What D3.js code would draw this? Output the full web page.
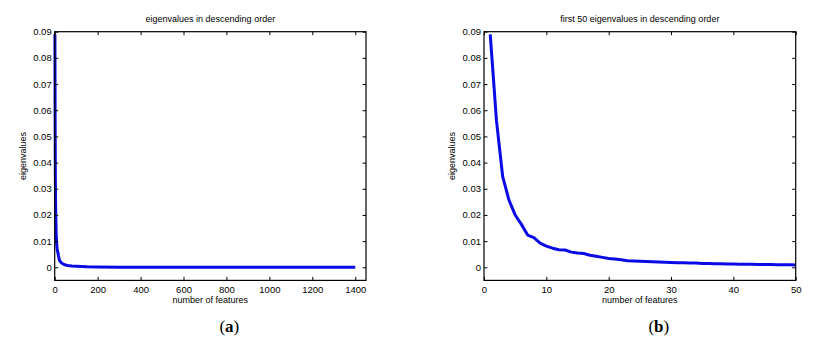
<!DOCTYPE html>
<html>
<head>
<meta charset="utf-8">
<script src="https://cdn.jsdelivr.net/npm/d3@7"></script>
<style>
  body { margin: 0; background: #fff; }
  text { font-family: "Liberation Sans", Arial, Helvetica, sans-serif; fill: #000; }
</style>
</head>
<body>
<div id="chart"></div>
<script>
// First 50 eigenvalues
const first50 = [
  0.0890, 0.0560, 0.0346, 0.0257, 0.0200, 0.0164, 0.0123, 0.0113, 0.0092, 0.0081,
  0.0073, 0.0067, 0.0066, 0.0058, 0.0055, 0.0053, 0.0046, 0.0042, 0.0038, 0.0034,
  0.0032, 0.0029, 0.0025, 0.0024, 0.0023, 0.0022, 0.0021, 0.0020, 0.0019, 0.0018,
  0.0017, 0.0017, 0.0016, 0.0016, 0.0015, 0.0015, 0.0014, 0.0014, 0.0013, 0.0013,
  0.0012, 0.0012, 0.0012, 0.0011, 0.0011, 0.0011, 0.0010, 0.0010, 0.0010, 0.0009
]
// Tail of the full spectrum (sampled feature index / value, panel a)
const tailIdx = [60, 80, 100, 150, 200, 300, 400, 600, 800, 1000, 1200, 1400]
const tailVal = [0.0007, 0.0005, 0.0004, 0.0002, 0.0001, 0.00005, 0.00003, 0.00002, 0.00002, 0.00001, 0.00001, 0.00001]

const yTicks = [0, 0.01, 0.02, 0.03, 0.04, 0.05, 0.06, 0.07, 0.08, 0.09]
const xTicksA = [0, 200, 400, 600, 800, 1000, 1200, 1400]
const xTicksB = [0, 10, 20, 30, 40, 50]

const WIDTH = 821
const HEIGHT = 353

let svg = d3.select("#chart").append("svg")
    .attr("width", WIDTH)
    .attr("height", HEIGHT)

// build point lists
let pointsB = first50.map((v, i) => [i + 1, v])
let pointsA = pointsB.concat(tailIdx.map((x, i) => [x, tailVal[i]]))

drawPanel({left: 54.7, right: 366, xMax: 1450, xTicks: xTicksA, pts: pointsA,
    title: "eigenvalues in descending order", sub: "a"})
drawPanel({left: 484, right: 795.7, xMax: 50, xTicks: xTicksB, pts: pointsB,
    title: "first 50 eigenvalues in descending order", sub: "b"})

function drawPanel(p) {
    const TOP = 31.7
    const BOTTOM = 280.4
    const TICK = 3.5

    let x = d3.scaleLinear().domain([0, p.xMax]).range([p.left, p.right])
    let y = d3.scaleLinear().domain([-0.005, 0.09]).range([BOTTOM, TOP])

    let g = svg.append("g")

    // data line
    let line = d3.line().x(d => x(d[0])).y(d => y(d[1]))
    g.append("path")
        .datum(p.pts)
        .attr("d", line)
        .attr("fill", "none")
        .attr("stroke", "#0a0ae6")
        .attr("stroke-width", 3)
        .attr("stroke-linejoin", "round")

    // axes: bottom/left with labels, top/right mirrored ticks only
    let fmtY = d => d === 0 ? "0" : d3.format(".2f")(d)
    let bottom = g.append("g")
        .attr("transform", "translate(0," + BOTTOM + ")")
        .call(d3.axisBottom(x).tickValues(p.xTicks).tickFormat(d3.format("d")).tickSize(-TICK).tickPadding(5.5).tickSizeOuter(0))
    let leftAx = g.append("g")
        .attr("transform", "translate(" + p.left + ",0)")
        .call(d3.axisLeft(y).tickValues(yTicks).tickFormat(fmtY).tickSize(-TICK).tickPadding(3).tickSizeOuter(0))
    let topAx = g.append("g")
        .attr("transform", "translate(0," + TOP + ")")
        .call(d3.axisTop(x).tickValues(p.xTicks).tickSize(-TICK).tickFormat("").tickSizeOuter(0))
    let rightAx = g.append("g")
        .attr("transform", "translate(" + p.right + ",0)")
        .call(d3.axisRight(y).tickValues(yTicks).tickSize(-TICK).tickFormat("").tickSizeOuter(0))

    for (let a of [bottom, leftAx, topAx, rightAx]) {
        a.select(".domain").remove()
        a.selectAll("line").attr("stroke", "#000")
        a.selectAll("text").attr("font-size", 9.5).attr("font-family", null).attr("fill", "#000")
    }

    // frame
    g.append("rect")
        .attr("x", p.left).attr("y", TOP)
        .attr("width", p.right - p.left).attr("height", BOTTOM - TOP)
        .attr("fill", "none").attr("stroke", "#000").attr("stroke-width", 1.2)

    let cx = (p.left + p.right) / 2

    g.append("text")
        .attr("x", cx).attr("y", 22)
        .attr("text-anchor", "middle").attr("font-size", 9)
        .text(p.title)

    g.append("text")
        .attr("x", cx).attr("y", 303)
        .attr("text-anchor", "middle").attr("font-size", 9)
        .text("number of features")

    g.append("text")
        .attr("transform", "translate(" + (p.left - 29) + "," + ((TOP + BOTTOM) / 2) + ") rotate(-90)")
        .attr("text-anchor", "middle").attr("font-size", 9)
        .text("eigenvalues")

    // sub caption (a) / (b)
    let cap = g.append("text")
        .attr("x", cx + 19).attr("y", 332)
        .attr("text-anchor", "middle")
        .style("font-family", "'Liberation Serif', 'Times New Roman', serif")
        .attr("font-size", 17)
    cap.append("tspan").text("(")
    cap.append("tspan").attr("font-weight", "bold").text(p.sub)
    cap.append("tspan").text(")")
}
</script>
</body>
</html>
